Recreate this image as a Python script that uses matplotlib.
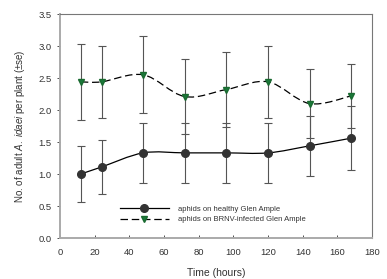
import numpy as np
import matplotlib
matplotlib.use("Agg")
import matplotlib.pyplot as plt
from matplotlib.path import Path
from matplotlib.patches import PathPatch

# data
hours = [12, 24, 48, 72, 96, 120, 144, 168]
healthy = [1.00, 1.11, 1.33, 1.33, 1.33, 1.33, 1.44, 1.56]
healthy_se = [0.44, 0.42, 0.47, 0.47, 0.47, 0.47, 0.47, 0.50]
infected = [2.44, 2.44, 2.55, 2.21, 2.32, 2.44, 2.10, 2.22]
infected_se = [0.59, 0.56, 0.60, 0.58, 0.58, 0.56, 0.54, 0.50]

plt.rcParams['font.family'] = ['Liberation Sans', 'DejaVu Sans']
plt.rcParams['mathtext.fontset'] = 'custom'
plt.rcParams['mathtext.it'] = 'Liberation Sans:italic'
plt.rcParams['mathtext.rm'] = 'Liberation Sans'


def smooth_path(x, y):
    # cubic bezier through the points (Catmull-Rom style control points)
    x = np.asarray(x, float)
    y = np.asarray(y, float)
    verts = [(x[0], y[0])]
    codes = [Path.MOVETO]
    n = len(x)
    for i in range(n - 1):
        x0, y0 = (x[i - 1], y[i - 1]) if i > 0 else (x[i], y[i])
        x3, y3 = (x[i + 2], y[i + 2]) if i + 2 < n else (x[i + 1], y[i + 1])
        c1 = (x[i] + (x[i + 1] - x0) / 6, y[i] + (y[i + 1] - y0) / 6)
        c2 = (x[i + 1] - (x3 - x[i]) / 6, y[i + 1] - (y3 - y[i]) / 6)
        verts += [c1, c2, (x[i + 1], y[i + 1])]
        codes += [Path.CURVE4] * 3
    return Path(verts, codes)


fig = plt.figure(figsize=(3.87, 2.79), dpi=100)
ax = fig.add_axes([60 / 387, 41 / 279, 312 / 387, 224 / 279])

ax.add_patch(PathPatch(smooth_path(hours, healthy), fill=False,
                       color='black', lw=0.9))
ax.add_patch(PathPatch(smooth_path(hours, infected), fill=False,
                       color='black', lw=0.9, linestyle=(0, (6, 3))))

ax.errorbar(hours, healthy, yerr=healthy_se, fmt='none', ecolor='#555555',
            elinewidth=0.8, capsize=3, capthick=0.8)
ax.errorbar(hours, infected, yerr=infected_se, fmt='none', ecolor='#555555',
            elinewidth=0.8, capsize=3, capthick=0.8)
ax.plot(hours, healthy, 'o', color='#333333', ms=5.5, zorder=5)
ax.plot(hours, infected, 'v', color='#1a7a3a', mec='#1a6a30', ms=5, zorder=5)

# legend handles
h1, = ax.plot([], [], '-o', color='black', mfc='#333333', mec='#333333',
              ms=5.5, lw=0.9)
h2, = ax.plot([], [], 'v', ls=(0, (6, 3)), color='black', mfc='#1a7a3a',
              mec='#1a6a30', ms=5, lw=0.9)
ax.legend([h1, h2], ['aphids on healthy Glen Ample',
                     'aphids on BRNV-infected Glen Ample'],
          loc='lower center', bbox_to_anchor=(0.49, 0.035), frameon=False,
          fontsize=5.5, handlelength=6.5, labelspacing=0.45, handletextpad=1.2,
          labelcolor='#333333')

ax.set_xlim(0, 180)
ax.set_ylim(0, 3.5)
ax.set_xticks(np.arange(0, 181, 20))
ax.set_yticks(np.arange(0, 3.51, 0.5))
ax.set_yticklabels([f'{v:.1f}' for v in np.arange(0, 3.51, 0.5)])
ax.tick_params(axis='x', direction='in', length=2.5, width=0.6,
               labelsize=6.8, colors='#333333', pad=7)
ax.tick_params(axis='y', direction='out', length=2.5, width=0.6,
               labelsize=6.8, colors='#333333')

for s in ['top', 'right']:
    ax.spines[s].set_color('#777777')
    ax.spines[s].set_linewidth(0.8)
for s in ['left', 'bottom']:
    ax.spines[s].set_color('#aaaaaa')
    ax.spines[s].set_linewidth(1.4)

ax.set_xlabel('Time (hours)', fontsize=7.5, color='#333333', labelpad=8)
ax.set_ylabel(r'No. of adult $\it{A.\ idaei}$ per plant (±se)', fontsize=7,
              color='#333333', labelpad=8)

fig.savefig('out.png', dpi=100)
